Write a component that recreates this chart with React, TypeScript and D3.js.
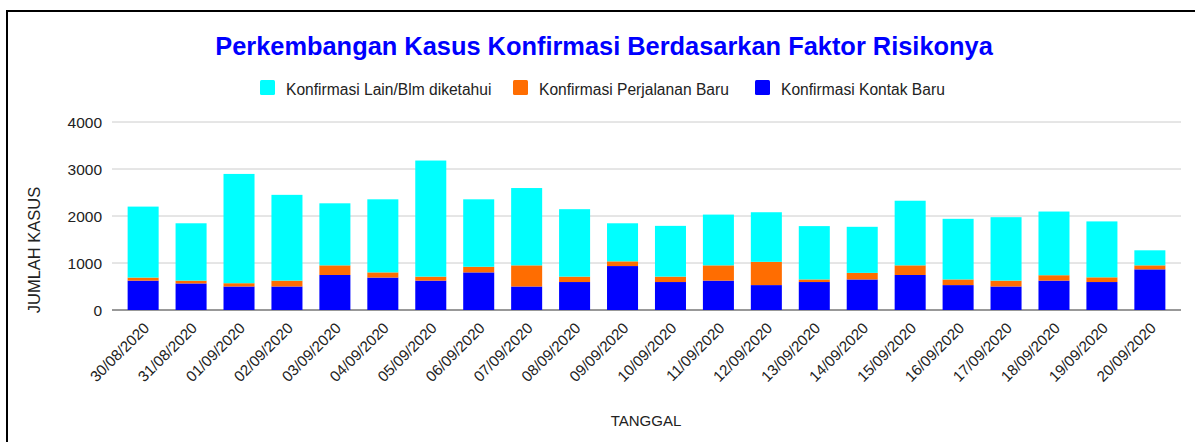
import React from "react";
import * as d3 from "d3";

const dates = [
  "30/08/2020", "31/08/2020", "01/09/2020", "02/09/2020", "03/09/2020", "04/09/2020",
  "05/09/2020", "06/09/2020", "07/09/2020", "08/09/2020", "09/09/2020", "10/09/2020",
  "11/09/2020", "12/09/2020", "13/09/2020", "14/09/2020", "15/09/2020", "16/09/2020",
  "17/09/2020", "18/09/2020", "19/09/2020", "20/09/2020",
];
const kontakBaru = [625, 565, 500, 500, 745, 690, 625, 800, 500, 595, 935, 595, 625, 530, 595, 650, 745, 530, 500, 625, 595, 865];
const perjalananBaru = [65, 60, 70, 125, 205, 110, 85, 120, 450, 115, 100, 115, 325, 495, 55, 140, 205, 120, 125, 115, 100, 85];
const lainBelumDiketahui = [1510, 1220, 2325, 1825, 1320, 1555, 2470, 1435, 1645, 1435, 810, 1080, 1080, 1055, 1135, 980, 1375, 1290, 1350, 1355, 1190, 320];
const yTicks = [0, 1000, 2000, 3000, 4000];

const seriesKeys = ["kontak", "perjalanan", "lain"];
const seriesColors: Record<string, string> = { kontak: "#0000ff", perjalanan: "#ff6d01", lain: "#00ffff" };
const legendItems = [
  { key: "lain", label: "Konfirmasi Lain/Blm diketahui" },
  { key: "perjalanan", label: "Konfirmasi Perjalanan Baru" },
  { key: "kontak", label: "Konfirmasi Kontak Baru" },
];

const FONT = "'Liberation Sans', Arial, sans-serif";

export default function App() {
  const rows = dates.map((d, i) => ({ date: d, kontak: kontakBaru[i], perjalanan: perjalananBaru[i], lain: lainBelumDiketahui[i] }));
  const stack = d3.stack<any>().keys(seriesKeys)(rows);
  const x = d3.scaleBand<string>().domain(dates).range([112, 1181]).paddingInner(0.353).paddingOuter(0.326);
  const y = d3.scaleLinear().domain([0, 4000]).range([310, 122]);
  const legendX = [260, 513, 755];

  return (
    <svg width={1195} height={442} style={{ position: "fixed", left: 0, top: 0, background: "#fff" }} fontFamily={FONT}>
      <rect x={7} y={11} width={1200} height={440} fill="#fff" stroke="#000" strokeWidth={2} />
      <text x={604} y={55} textAnchor="middle" fontSize={25.4} fontWeight="bold" fill="#0000ff">
        Perkembangan Kasus Konfirmasi Berdasarkan Faktor Risikonya
      </text>
      {legendItems.map((it, i) => (
        <g key={it.key}>
          <rect x={legendX[i]} y={80} width={15} height={15} rx={1.5} fill={seriesColors[it.key]} />
          <text x={legendX[i] + 26} y={94.5} fontSize={15.6} fill="#222">{it.label}</text>
        </g>
      ))}
      {yTicks.map((t) => (
        <g key={t}>
          <line x1={112} x2={1181} y1={y(t)} y2={y(t)} stroke={t === 0 ? "#333" : "#ccc"} strokeWidth={1} />
          <text x={102} y={y(t) + 5.5} textAnchor="end" fontSize={15.5} fill="#222">{t}</text>
        </g>
      ))}
      {stack.map((s) => (
        <g key={s.key} fill={seriesColors[s.key]}>
          {s.map((d, i) => (
            <rect key={i} x={x(dates[i])} y={y(d[1])} width={x.bandwidth()} height={y(d[0]) - y(d[1])} />
          ))}
        </g>
      ))}
      {dates.map((d) => {
        const cx = (x(d) as number) + x.bandwidth() / 2 + 7;
        return (
          <text key={d} transform={`translate(${cx},329) rotate(-45)`} textAnchor="end" fontSize={15.2} fill="#222">{d}</text>
        );
      })}
      <text transform="translate(40,250) rotate(-90)" textAnchor="middle" fontSize={16.5} fill="#222">JUMLAH KASUS</text>
      <text x={646} y={426} textAnchor="middle" fontSize={15} fill="#222">TANGGAL</text>
    </svg>
  );
}
